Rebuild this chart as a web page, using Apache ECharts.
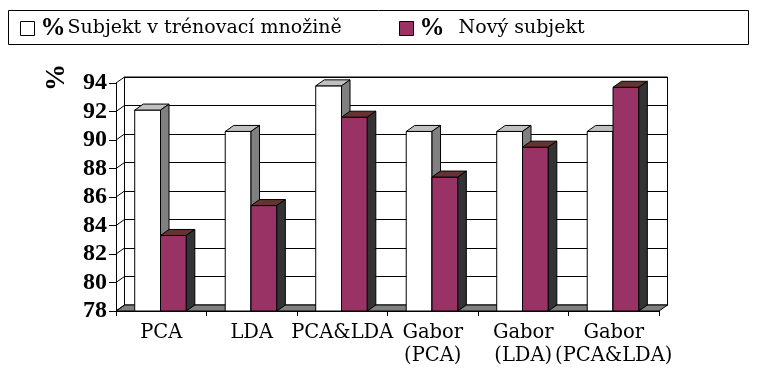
<!DOCTYPE html>
<html><head><meta charset="utf-8">
<script src="https://cdn.jsdelivr.net/npm/echarts@6/dist/echarts.min.js"></script>
<style>html,body{margin:0;padding:0;background:#fff}#c{width:760px;height:373px}</style>
</head><body><div id="c"></div>
<script>
const categories = ['PCA', 'LDA', 'PCA&LDA', 'Gabor\n(PCA)', 'Gabor\n(LDA)', 'Gabor\n(PCA&LDA)'];
const seriesNames = ['Subjekt v trénovací množině', 'Nový subjekt'];
const trainValues = [92.1, 90.6, 93.8, 90.6, 90.6, 90.6];
const newValues = [83.3, 85.4, 91.6, 87.4, 89.5, 93.7];
const yTicks = [78, 80, 82, 84, 86, 88, 90, 92, 94];
const Y_MIN = 78, Y_MAX = 94, Y_STEP = 2;

const DX = 8.5, DY = -6;
const SERIF = '"DejaVu Serif", serif';
const TIMES = '"Liberation Serif", "Times New Roman", serif';

function barRenderer(offsetFrac, front, top, side) {
  return function (params, api) {
    const idx = api.value(0), v = api.value(1);
    const band = api.size([1, 0])[0];
    const c = api.coord([idx, v]);
    const b = api.coord([idx, Y_MIN]);
    const w = band * 0.285;
    const x = c[0] + offsetFrac * band;
    const y = c[1], y0 = b[1];
    const st = { stroke: '#000', lineWidth: 1 };
    return {
      type: 'group',
      children: [
        { type: 'rect', shape: { x: x, y: y, width: w, height: y0 - y }, style: Object.assign({ fill: front }, st) },
        { type: 'polygon', shape: { points: [[x, y], [x + w, y], [x + w + DX, y + DY], [x + DX, y + DY]] }, style: Object.assign({ fill: top }, st) },
        { type: 'polygon', shape: { points: [[x + w, y], [x + w, y0], [x + w + DX, y0 + DY], [x + w + DX, y + DY]] }, style: Object.assign({ fill: side }, st) }
      ]
    };
  };
}

const chart = echarts.init(document.getElementById('c'), null, { renderer: 'canvas' });

const option = {
  animation: false,
  backgroundColor: '#fff',
  graphic: [
    { type: 'rect', shape: { x: 8.5, y: 10.5, width: 740, height: 34 }, style: { fill: 'none', stroke: '#000', lineWidth: 1 }, z: 0 },
    { type: 'text', x: 57.5, y: 77.5, rotation: Math.PI / 2, style: { text: '%', font: 'bold 27px ' + TIMES, fill: '#000', align: 'center', verticalAlign: 'middle' } }
  ],
  legend: [
    {
      data: [seriesNames[0]], left: 20, top: 16, padding: 0, icon: 'rect', itemWidth: 14, itemHeight: 14, itemGap: 4,
      itemStyle: { borderColor: '#000', borderWidth: 1 },
      formatter: function (n) { return '{p|%}' + n; },
      textStyle: { fontFamily: SERIF, fontSize: 19, color: '#000', rich: { p: { fontFamily: TIMES, fontWeight: 'bold', fontSize: 25, padding: [0, 2, 0, 1] } } }
    },
    {
      data: [seriesNames[1]], left: 399, top: 16, padding: 0, icon: 'rect', itemWidth: 14, itemHeight: 14,
      itemStyle: { borderColor: '#000', borderWidth: 1 },
      formatter: function (n) { return '{p|%}  ' + n; },
      textStyle: { fontFamily: SERIF, fontSize: 19, color: '#000', rich: { p: { fontFamily: TIMES, fontWeight: 'bold', fontSize: 25, padding: [0, 2, 0, 1] } } }
    }
  ],
  grid: [
    { left: 116, right: 101, top: 83, bottom: 62 },
    { left: 124.5, right: 92.5, top: 77, bottom: 68, show: true, borderColor: '#000', borderWidth: 1, backgroundColor: 'transparent' }
  ],
  xAxis: [
    {
      gridIndex: 0, type: 'category', data: categories, boundaryGap: true,
      axisLine: { lineStyle: { color: '#000', width: 1 } },
      axisTick: { show: true, length: 5, lineStyle: { color: '#000' } },
      axisLabel: { interval: 0, color: '#000', fontFamily: SERIF, fontSize: 19.5, lineHeight: 23, margin: 10 },
      splitLine: { show: false }
    },
    { gridIndex: 1, type: 'category', data: categories, show: false }
  ],
  yAxis: [
    {
      gridIndex: 0, type: 'value', min: Y_MIN, max: Y_MAX, interval: Y_STEP,
      axisLine: { show: true, lineStyle: { color: '#000', width: 1 } },
      axisTick: { show: true, length: 7, lineStyle: { color: '#000' } },
      axisLabel: { color: '#000', fontFamily: TIMES, fontWeight: 'bold', fontSize: 24, margin: 9 },
      splitLine: { show: false }
    },
    {
      gridIndex: 1, type: 'value', min: Y_MIN, max: Y_MAX, interval: Y_STEP,
      axisLine: { show: false }, axisTick: { show: false }, axisLabel: { show: false },
      splitLine: { show: true, lineStyle: { color: '#000', width: 1 } }
    }
  ],
  series: [
    {
      type: 'custom', name: 'floor', xAxisIndex: 0, yAxisIndex: 0, silent: true, z: 1,
      data: [[0, Y_MIN]],
      renderItem: function (params, api) {
        const band = api.size([1, 0])[0];
        const l = api.coord([0, Y_MIN]);
        const r = api.coord([categories.length - 1, Y_MIN]);
        const x0 = l[0] - band / 2, x1 = r[0] + band / 2, y = l[1];
        return { type: 'polygon', shape: { points: [[x0, y], [x1, y], [x1 + DX, y + DY], [x0 + DX, y + DY]] }, style: { fill: '#808080', stroke: '#000', lineWidth: 1 } };
      }
    },
    {
      type: 'custom', name: 'ticks', xAxisIndex: 0, yAxisIndex: 0, silent: true, z: 1,
      data: yTicks.map(function (t) { return [0, t]; }),
      renderItem: function (params, api) {
        const band = api.size([1, 0])[0];
        const c = api.coord([0, api.value(1)]);
        const x = c[0] - band / 2, y = c[1];
        return { type: 'line', shape: { x1: x, y1: y, x2: x + DX, y2: y + DY }, style: { stroke: '#000', lineWidth: 1 } };
      }
    },
    {
      type: 'custom', name: seriesNames[0], xAxisIndex: 0, yAxisIndex: 0, z: 2,
      itemStyle: { color: '#ffffff' },
      data: trainValues.map(function (v, i) { return [i, v]; }),
      renderItem: barRenderer(-0.293, '#ffffff', '#c0c0c0', '#808080')
    },
    {
      type: 'custom', name: seriesNames[1], xAxisIndex: 0, yAxisIndex: 0, z: 3,
      itemStyle: { color: '#993366' },
      data: newValues.map(function (v, i) { return [i, v]; }),
      renderItem: barRenderer(-0.008, '#993366', '#663333', '#333333')
    }
  ]
};
chart.setOption(option);
</script>
</body></html>
